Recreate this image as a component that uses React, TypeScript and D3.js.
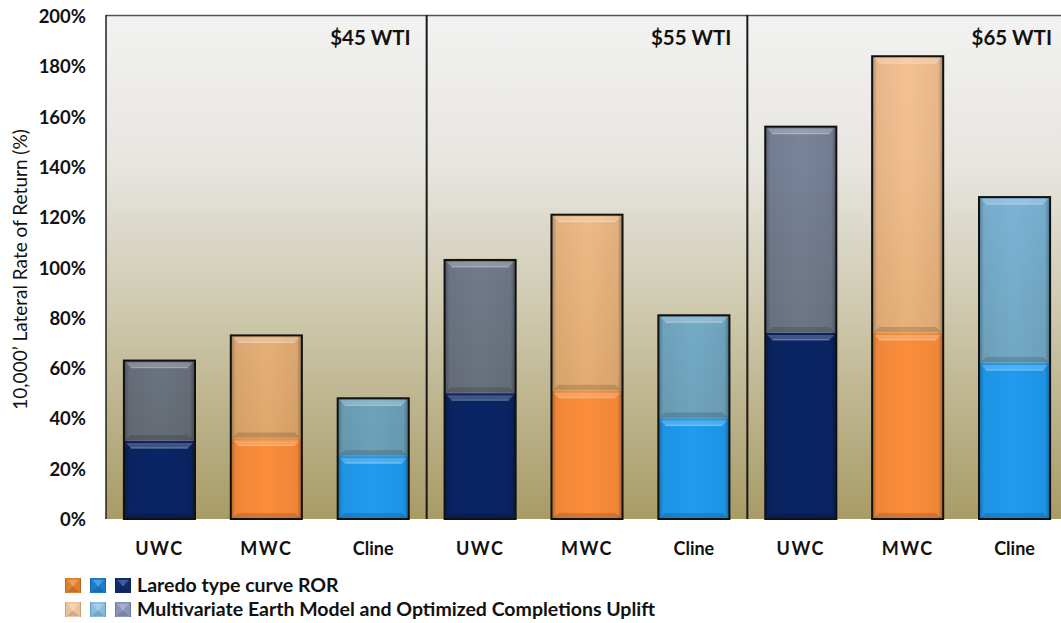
import React from 'react';
import * as d3 from 'd3';

// Oil price scenarios (panels) and wells (bars within each panel)
const prices = ['$45 WTI', '$55 WTI', '$65 WTI'];
const wells = ['UWC', 'MWC', 'Cline'];

// Laredo type curve ROR (%), ordered price by price, UWC / MWC / Cline
const typeCurveROR = [31, 32, 25, 50, 51, 40, 74, 74, 62];
// Uplift from multivariate earth model + optimized completions (%)
const upliftROR = [32, 41, 23, 53, 70, 41, 82, 110, 66];

const yTicks = [0, 20, 40, 60, 80, 100, 120, 140, 160, 180, 200];

const baseColors: Record<string, string> = { UWC: '#0a2565', MWC: '#fb8d3b', Cline: '#1f9bef' };
const upliftColors: Record<string, string> = { UWC: '#33456d', MWC: '#f7a45c', Cline: '#3d9ad8' };
const upliftOpacity = 0.62;

const legendRows = [
  { label: 'Laredo type curve ROR', colors: ['#e5842f', '#1b80d2', '#0f2d72'] },
  { label: 'Multivariate Earth Model and Optimized Completions Uplift', colors: ['#f5c9a2', '#8ec2e8', '#8d99c0'] },
];

const W = 1061;
const H = 623;
const plotLeft = 106;
const plotRight = 1068;
const font = 'Lato, "Open Sans", sans-serif';

const y = d3.scaleLinear().domain([0, 200]).range([519, 16]);
const xPanel = d3.scaleBand<string>().domain(prices).range([plotLeft, plotRight]).padding(0);
const xWell = d3
  .scaleBand<string>()
  .domain(wells)
  .range([0, xPanel.bandwidth()])
  .paddingInner(0.335)
  .paddingOuter(0.1675);

type Seg = { x: number; y: number; w: number; h: number };

function Bevel({ s, fill, opacity = 1 }: { s: Seg; fill: string; opacity?: number }) {
  const { x, y: top, w, h } = s;
  const b = Math.min(5, h / 3);
  return (
    <g>
      <rect x={x} y={top} width={w} height={h} fill={fill} fillOpacity={opacity} />
      <rect x={x} y={top} width={w} height={h} fill="url(#sideShade)" />
      {/* upper bevel highlight */}
      <polygon
        points={`${x + 2},${top + 2} ${x + w - 2},${top + 2} ${x + w - 2 - b},${top + 2 + b} ${x + 2 + b},${top + 2 + b}`}
        fill="#ffffff"
        fillOpacity={0.22}
      />
      <line x1={x + 2 + b} x2={x + w - 2 - b} y1={top + 2 + b} y2={top + 2 + b} stroke="#ffffff" strokeOpacity={0.3} strokeWidth={1.2} />
      {/* lower bevel shade */}
      <polygon
        points={`${x + 2},${top + h - 1} ${x + w - 2},${top + h - 1} ${x + w - 2 - b},${top + h - 1 - b} ${x + 2 + b},${top + h - 1 - b}`}
        fill="#000000"
        fillOpacity={0.14}
      />
    </g>
  );
}

export default function App() {
  const bars = prices.flatMap((p, pi) =>
    wells.map((wl, wi) => {
      const i = pi * wells.length + wi;
      const x0 = (xPanel(p) ?? 0) + (xWell(wl) ?? 0);
      const bw = xWell.bandwidth();
      const base = typeCurveROR[i];
      const total = base + upliftROR[i];
      return { key: `${p}-${wl}`, well: wl, x0, bw, base, total };
    })
  );

  return (
    <svg
      width={W}
      height={H}
      viewBox={`0 0 ${W} ${H}`}
      style={{ position: 'absolute', left: 0, top: 0, background: '#ffffff' }}
    >
      <defs>
        <linearGradient id="plotBg" x1="0" y1="0" x2="0" y2="1">
          <stop offset="0" stopColor="#f2f2f2" />
          <stop offset="0.3" stopColor="#e7e5df" />
          <stop offset="0.62" stopColor="#cbc5a8" />
          <stop offset="1" stopColor="#a89b66" />
        </linearGradient>
        <linearGradient id="sideShade" x1="0" y1="0" x2="1" y2="0">
          <stop offset="0" stopColor="#000" stopOpacity={0.3} />
          <stop offset="0.07" stopColor="#000" stopOpacity={0.05} />
          <stop offset="0.5" stopColor="#000" stopOpacity={0} />
          <stop offset="0.93" stopColor="#000" stopOpacity={0.05} />
          <stop offset="1" stopColor="#000" stopOpacity={0.35} />
        </linearGradient>
      </defs>

      {/* plot background */}
      <rect x={plotLeft} y={y(200)} width={plotRight - plotLeft} height={y(0) - y(200)} fill="url(#plotBg)" />
      <line x1={plotLeft} x2={plotRight} y1={y(200) - 0.5} y2={y(200) - 0.5} stroke="#555" strokeWidth={1.5} />
      <line x1={plotLeft} x2={plotLeft} y1={y(200) - 1} y2={y(0)} stroke="#222" strokeWidth={1.5} />

      {/* panel dividers */}
      {prices.slice(1).map((p) => (
        <line key={p} x1={xPanel(p)} x2={xPanel(p)} y1={y(200) - 1} y2={y(0)} stroke="#1a1a1a" strokeWidth={2} />
      ))}

      {/* panel titles */}
      {prices.map((p) => (
        <text
          key={p}
          x={(xPanel(p) ?? 0) + xPanel.bandwidth() - 16}
          y={45}
          textAnchor="end"
          fontFamily={font}
          fontWeight={700}
          fontSize={20.5}
          fill="#111"
        >
          {p}
        </text>
      ))}

      {/* stacked bars */}
      {bars.map((b) => {
        const baseSeg = { x: b.x0, y: y(b.base), w: b.bw, h: y(0) - y(b.base) };
        const upSeg = { x: b.x0, y: y(b.total), w: b.bw, h: y(b.base) - y(b.total) };
        return (
          <g key={b.key}>
            <Bevel s={upSeg} fill={upliftColors[b.well]} opacity={upliftOpacity} />
            <Bevel s={baseSeg} fill={baseColors[b.well]} />
            <rect
              x={b.x0}
              y={y(b.total)}
              width={b.bw}
              height={y(0) - y(b.total)}
              fill="none"
              stroke="#111"
              strokeWidth={2}
            />
          </g>
        );
      })}

      {/* y axis tick labels */}
      {yTicks.map((t) => (
        <text
          key={t}
          x={86}
          y={y(t) + 7}
          textAnchor="end"
          fontFamily={font}
          fontWeight={700}
          fontSize={18.5}
          fill="#111"
        >
          {`${t}%`}
        </text>
      ))}

      {/* y axis title */}
      <text
        transform={`translate(27, ${y(100) + 2}) rotate(-90)`}
        textAnchor="middle"
        fontFamily={font}
        fontSize={19}
        fill="#111"
      >
        10,000’ Lateral Rate of Return (%)
      </text>

      {/* category labels */}
      {bars.map((b) => (
        <text
          key={`lbl-${b.key}`}
          x={b.x0 + b.bw / 2}
          y={555}
          textAnchor="middle"
          fontFamily={font}
          fontWeight={700}
          fontSize={18}
          letterSpacing={b.well === 'Cline' ? 0 : 1.5}
          fill="#111"
        >
          {b.well}
        </text>
      ))}

      {/* legend */}
      {legendRows.map((row, ri) => {
        const ly = 578 + ri * 24;
        return (
          <g key={row.label}>
            {row.colors.map((c, ci) => (
              <Bevel key={c} s={{ x: 65 + ci * 25, y: ly, w: 16, h: 15 }} fill={c} />
            ))}
            <text x={137} y={ly + 14} fontFamily={font} fontWeight={700} fontSize={19.5} fill="#111">
              {row.label}
            </text>
          </g>
        );
      })}
    </svg>
  );
}
